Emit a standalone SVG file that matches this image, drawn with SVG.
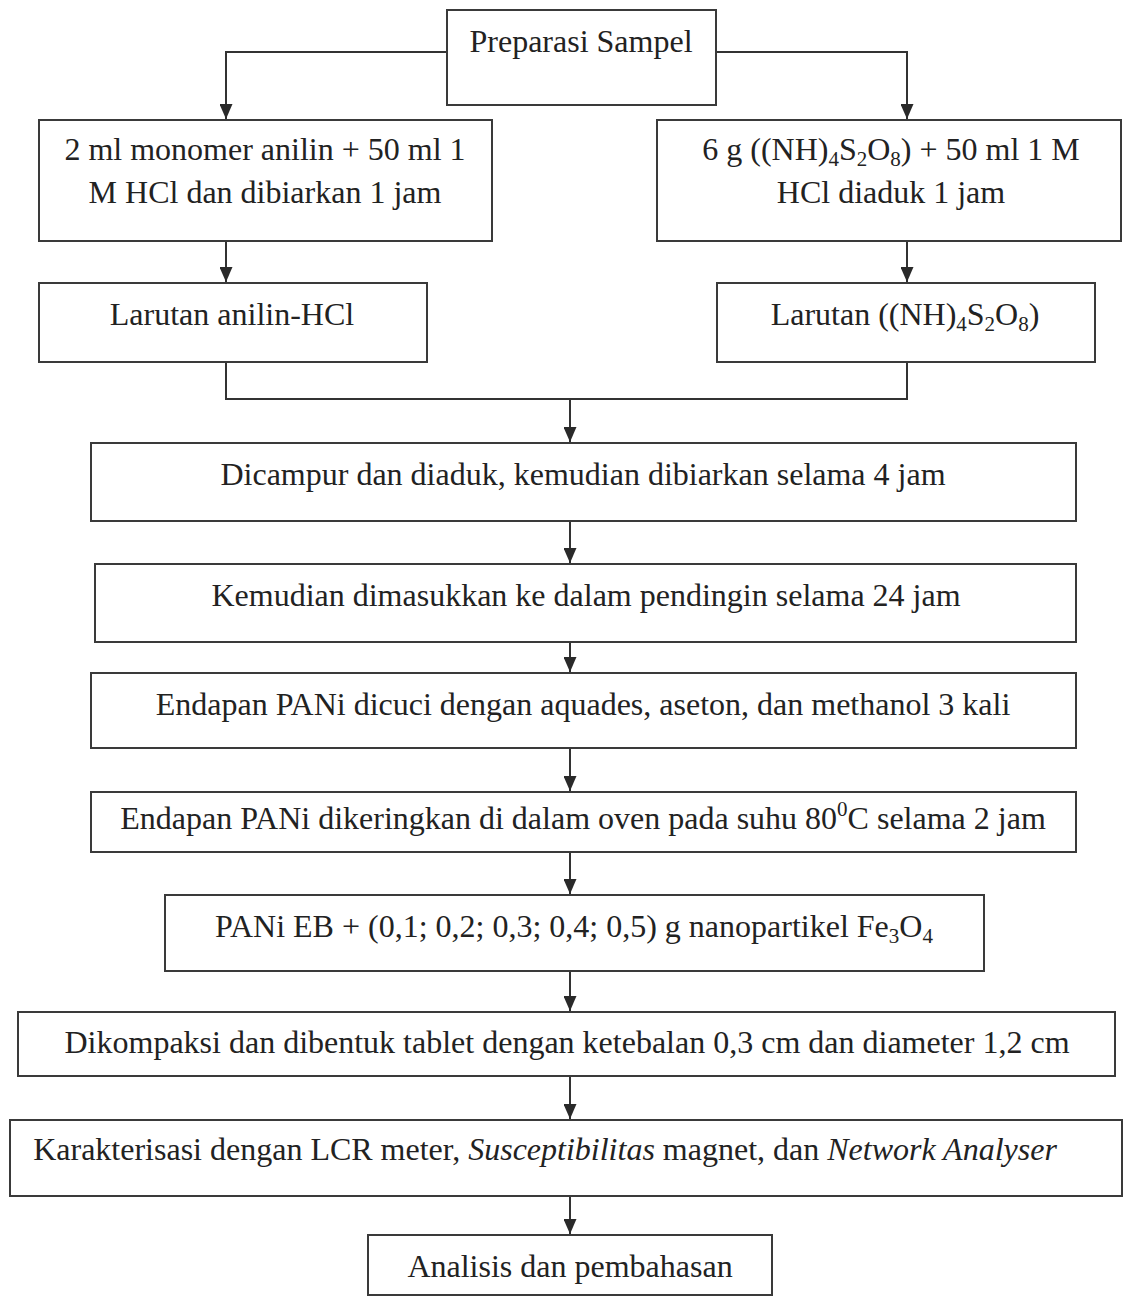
<svg xmlns="http://www.w3.org/2000/svg" width="1124" height="1297" viewBox="0 0 1124 1297">
<defs>
<marker id="ah" markerWidth="16" markerHeight="13" refX="15" refY="6.5" orient="auto" markerUnits="userSpaceOnUse">
<path d="M0,0 L15,6.5 L0,13 Z" fill="#2a2a2a"/>
</marker>
<style>
.box{fill:#ffffff;stroke:#3a3a3a;stroke-width:2}
.t{font-family:"Liberation Serif","Times New Roman",serif;font-size:32px;fill:#222222;text-anchor:middle}
.sub{font-size:21px}
.con{fill:none;stroke:#333333;stroke-width:2}
</style>
</defs>
<rect width="1124" height="1297" fill="#ffffff"/>
<g id="connectors">
<path class="con" d="M447,52 H226 V119" marker-end="url(#ah)"/>
<path class="con" d="M716,52 H907 V119" marker-end="url(#ah)"/>
<path class="con" d="M226,241 V282" marker-end="url(#ah)"/>
<path class="con" d="M907,241 V282" marker-end="url(#ah)"/>
<path class="con" d="M226,362 V399 H907 V362"/>
<path class="con" d="M570,399 V442" marker-end="url(#ah)"/>
<path class="con" d="M570,521 V563" marker-end="url(#ah)"/>
<path class="con" d="M570,642 V672" marker-end="url(#ah)"/>
<path class="con" d="M570,748 V791" marker-end="url(#ah)"/>
<path class="con" d="M570,852 V894" marker-end="url(#ah)"/>
<path class="con" d="M570,971 V1011" marker-end="url(#ah)"/>
<path class="con" d="M570,1076 V1119" marker-end="url(#ah)"/>
<path class="con" d="M570,1196 V1234" marker-end="url(#ah)"/>
</g>
<g id="n-prep">
<rect class="box" x="447" y="10" width="269" height="95"/>
<text class="t" x="581" y="52">Preparasi Sampel</text>
</g>
<g id="n-left1">
<rect class="box" x="39" y="120" width="453" height="121"/>
<text class="t" x="265" y="160">2 ml monomer anilin + 50 ml 1</text>
<text class="t" x="265" y="203">M HCl dan dibiarkan 1 jam</text>
</g>
<g id="n-right1">
<rect class="box" x="657" y="120" width="464" height="121"/>
<text class="t" x="891" y="160">6 g ((NH)<tspan class="sub" dy="6">4</tspan><tspan dy="-6">S</tspan><tspan class="sub" dy="6">2</tspan><tspan dy="-6">O</tspan><tspan class="sub" dy="6">8</tspan><tspan dy="-6">) + 50 ml 1 M</tspan></text>
<text class="t" x="891" y="203">HCl diaduk 1 jam</text>
</g>
<g id="n-left2">
<rect class="box" x="39" y="283" width="388" height="79"/>
<text class="t" x="232" y="325">Larutan anilin-HCl</text>
</g>
<g id="n-right2">
<rect class="box" x="717" y="283" width="378" height="79"/>
<text class="t" x="905" y="325">Larutan ((NH)<tspan class="sub" dy="6">4</tspan><tspan dy="-6">S</tspan><tspan class="sub" dy="6">2</tspan><tspan dy="-6">O</tspan><tspan class="sub" dy="6">8</tspan><tspan dy="-6">)</tspan></text>
</g>
<g id="n-campur">
<rect class="box" x="91" y="443" width="985" height="78"/>
<text class="t" x="583" y="485">Dicampur dan diaduk, kemudian dibiarkan selama 4 jam</text>
</g>
<g id="n-pendingin">
<rect class="box" x="95" y="564" width="981" height="78"/>
<text class="t" x="586" y="606">Kemudian dimasukkan ke dalam pendingin selama 24 jam</text>
</g>
<g id="n-cuci">
<rect class="box" x="91" y="673" width="985" height="75"/>
<text class="t" x="583" y="715">Endapan PANi dicuci dengan aquades, aseton, dan methanol 3 kali</text>
</g>
<g id="n-kering">
<rect class="box" x="91" y="792" width="985" height="60"/>
<text class="t" x="583" y="829">Endapan PANi dikeringkan di dalam oven pada suhu 80<tspan class="sub" dy="-13">0</tspan><tspan dy="13">C selama 2 jam</tspan></text>
</g>
<g id="n-pani">
<rect class="box" x="165" y="895" width="819" height="76"/>
<text class="t" x="574" y="937">PANi EB + (0,1; 0,2; 0,3; 0,4; 0,5) g nanopartikel Fe<tspan class="sub" dy="6">3</tspan><tspan dy="-6">O</tspan><tspan class="sub" dy="6">4</tspan></text>
</g>
<g id="n-kompaksi">
<rect class="box" x="18" y="1012" width="1097" height="64"/>
<text class="t" x="567" y="1053">Dikompaksi dan dibentuk tablet dengan ketebalan 0,3 cm dan diameter 1,2 cm</text>
</g>
<g id="n-karakterisasi">
<rect class="box" x="10" y="1120" width="1112" height="76"/>
<text class="t" x="545" y="1160">Karakterisasi dengan LCR meter, <tspan font-style="italic">Susceptibilitas</tspan> magnet, dan <tspan font-style="italic">Network Analyser</tspan></text>
</g>
<g id="n-analisis">
<rect class="box" x="368" y="1235" width="404" height="60"/>
<text class="t" x="570" y="1277">Analisis dan pembahasan</text>
</g>
</svg>
